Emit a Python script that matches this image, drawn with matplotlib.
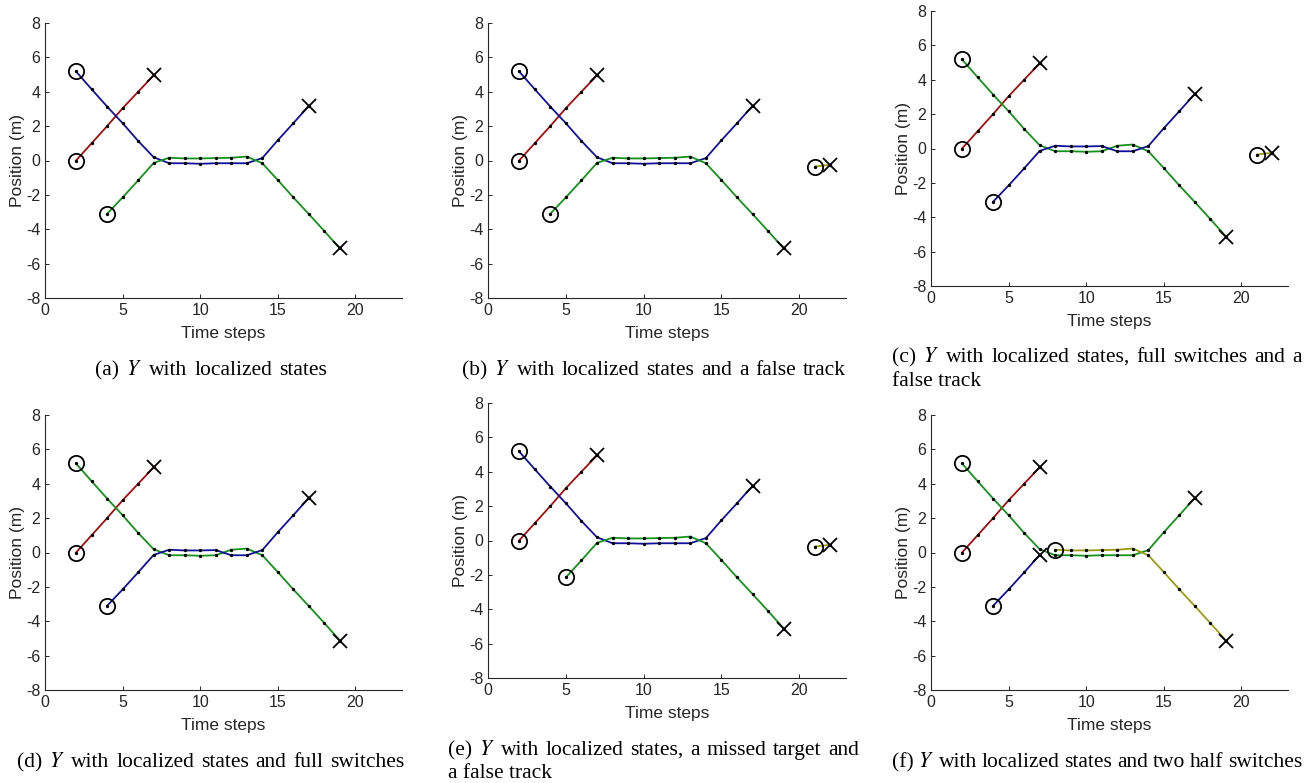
import matplotlib
matplotlib.use("Agg")
import matplotlib.pyplot as plt
import numpy as np

plt.rcParams['font.family'] = ['Liberation Sans', 'DejaVu Sans']
plt.rcParams['mathtext.fontset'] = 'stix'
plt.rcParams['axes.unicode_minus'] = False

W, H = 1310, 783

# ---- data -----------------------------------------------------------------
t_red = [2, 3, 4, 5, 6, 7]
y_red = [0.00, 1.00, 2.00, 3.04, 4.00, 4.95]

t_desc = [2, 3, 4, 5, 6, 7]            # target starting high, coming down
y_desc = [5.18, 4.15, 3.14, 2.17, 1.14, 0.19]

t_asc = [4, 5, 6, 7]                   # target starting low, going up
y_asc = [-3.10, -2.15, -1.16, -0.14]

t_mid = [8, 9, 10, 11, 12, 13]         # close-crossing section
y_upper = [0.16, 0.12, 0.12, 0.14, 0.16, 0.23]
y_lower = [-0.16, -0.16, -0.19, -0.16, -0.16, -0.16]

t_rise = [14, 15, 16, 17]
y_rise = [0.14, 1.18, 2.17, 3.18]

t_fall = [14, 15, 16, 17, 18, 19]
y_fall = [-0.16, -1.14, -2.15, -3.12, -4.11, -5.12]

t_false = [21, 22]
y_false = [-0.35, -0.25]

c_red = '#a30d0d'
c_blue = '#10109c'
c_green = '#14921a'
c_yellow = '#9c9a10'
txt_gray = '#262626'

captions = [
    ["(a) $Y$ with localized states"],
    ["(b) $Y$ with localized states and a false track"],
    ["(c) $Y$ with localized states, full switches and a", "false track"],
    ["(d) $Y$ with localized states and full switches"],
    ["(e) $Y$ with localized states, a missed target and", "a false track"],
    ["(f) $Y$ with localized states and two half switches"],
]


def cat(*parts):
    return list(np.concatenate([np.asarray(p, dtype=float) for p in parts]))


# tracks per panel: list of (t, y, colour)
blue_a = (cat(t_desc, t_mid, t_rise), cat(y_desc, y_lower, y_rise), c_blue)
green_a = (cat(t_asc, t_mid, t_fall), cat(y_asc, y_upper, y_fall), c_green)
red = (t_red, y_red, c_red)
false_tr = (t_false, y_false, c_yellow)

green_sw = (cat(t_desc, t_mid, t_fall),
            cat(y_desc, y_lower[:4], y_upper[4:], y_fall), c_green)
blue_sw = (cat(t_asc, t_mid, t_rise),
           cat(y_asc, y_upper[:4], y_lower[4:], y_rise), c_blue)

green_miss = (cat(t_asc[1:], t_mid, t_fall), cat(y_asc[1:], y_upper, y_fall), c_green)

green_f = (cat(t_desc, t_mid, t_rise), cat(y_desc, y_lower, y_rise), c_green)
blue_f = (t_asc, y_asc, c_blue)
yellow_f = (cat(t_mid, t_fall), cat(y_upper, y_fall), c_yellow)

panels = [
    [red, blue_a, green_a],
    [red, blue_a, green_a, false_tr],
    [red, green_sw, blue_sw, false_tr],
    [red, green_sw, blue_sw],
    [red, blue_a, green_miss, false_tr],
    [red, green_f, blue_f, yellow_f],
]

# axes boxes in pixels: left, right, top, bottom
boxes = [
    (45, 402, 23, 298), (488, 846, 23, 298), (931, 1288, 11, 286),
    (45, 402, 415, 690), (488, 846, 403, 678), (931, 1288, 415, 690),
]

# caption placement: (x0, x1, baseline) for the first line, second line baseline
cap_pos = [
    (95, 327, 375, None), (462, 846, 375, None), (892, 1302, 362, 386),
    (17, 404, 767, None), (448, 859, 755, 778), (892, 1302, 767, None),
]
cap_size = 15.5

fig = plt.figure(figsize=(W / 100, H / 100), dpi=100)

for k, tracks in enumerate(panels):
    l, r, t, b = boxes[k]
    ax = fig.add_axes([l / W, 1 - b / H, (r - l) / W, (b - t) / H])
    for tt, yy, col in tracks:
        ax.plot(tt, yy, '-', color=col, lw=1.3, zorder=2)
        ax.plot(tt, yy, '.', color='black', ms=2.8, zorder=3)
        ax.plot(tt[0], yy[0], 'o', mfc='none', mec='black', ms=11, mew=1.3, zorder=4)
        ax.plot(tt[-1], yy[-1], 'x', color='black', ms=10, mew=1.3, zorder=4)

    ax.set_xlim(0, 23)
    ax.set_ylim(-8, 8)
    ax.set_xticks([0, 5, 10, 15, 20])
    ax.set_yticks(np.arange(-8, 9, 2))
    for s in ['top', 'right']:
        ax.spines[s].set_visible(False)
    for s in ['left', 'bottom']:
        ax.spines[s].set_color(txt_gray)
        ax.spines[s].set_linewidth(0.8)
    ax.tick_params(direction='in', length=3, width=0.7, colors=txt_gray,
                   labelsize=11.5, pad=3.5)
    ax.set_xlabel('Time steps', fontsize=12.5, color=txt_gray)
    ax.set_ylabel('Position (m)', fontsize=12.5, color=txt_gray)
    ax.xaxis.set_label_coords(0.5, -0.128)
    ax.xaxis.label.set_va('center')
    ax.yaxis.set_label_coords(-0.078, 0.5)
    ax.yaxis.label.set_va('center')

# captions, word by word so the spacing matches the justified text
renderer = fig.canvas.get_renderer()
for k, lines in enumerate(captions):
    x0, x1, y1, y2 = cap_pos[k]
    words = lines[0].split(' ')
    objs = [fig.text(0, 1 - y1 / H, w, family='Liberation Serif', fontsize=cap_size,
                     va='baseline', ha='left') for w in words]
    widths = [o.get_window_extent(renderer).width for o in objs]
    gap = (x1 - x0 - sum(widths)) / (len(words) - 1)
    x = x0
    for o, w in zip(objs, widths):
        o.set_x(x / W)
        x += w + gap
    if len(lines) > 1:
        fig.text(x0 / W, 1 - y2 / H, lines[1], family='Liberation Serif',
                 fontsize=cap_size, va='baseline', ha='left')

fig.savefig('out.png', dpi=100)
